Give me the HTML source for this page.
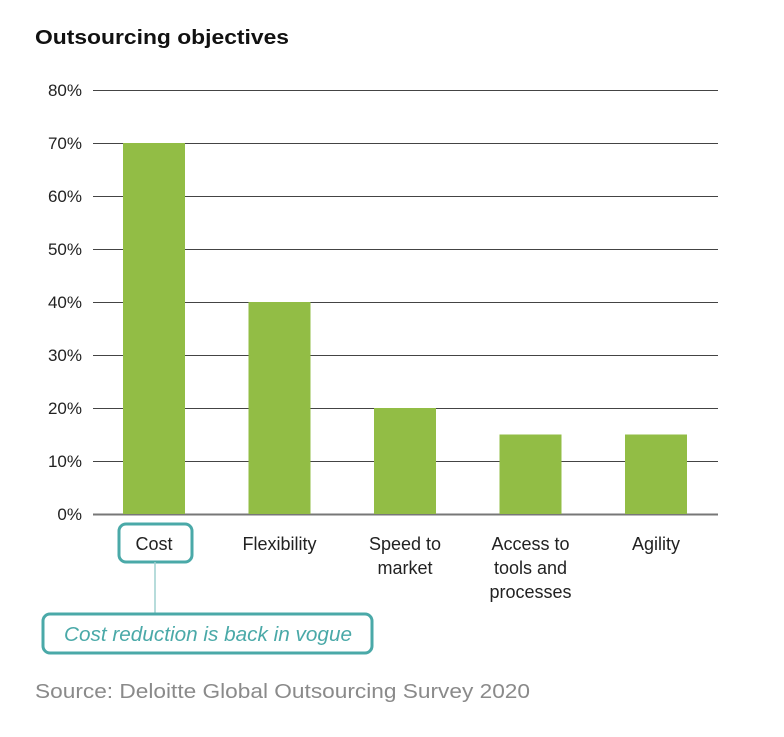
<!DOCTYPE html>
<html><head><meta charset="utf-8"><style>
body{margin:0;background:#fff;width:784px;height:732px;overflow:hidden;font-family:"Liberation Sans",sans-serif}
</style></head><body>
<svg width="784" height="732" xmlns="http://www.w3.org/2000/svg">
<text x="35" y="44" font-size="20" font-weight="bold" fill="#111" textLength="254" lengthAdjust="spacingAndGlyphs">Outsourcing objectives</text>
<g id="grid"></g>
<g id="bars"></g>
<g id="xl"></g>
<rect x="119" y="524" width="73" height="38" rx="7" fill="none" stroke="#4aa9a8" stroke-width="3"/>
<line x1="155" y1="562" x2="155" y2="613" stroke="#9fd0cf" stroke-width="1.5"/>
<rect x="43" y="614" width="329" height="39" rx="7" fill="none" stroke="#4aa9a8" stroke-width="3"/>
<text x="64" y="641" font-size="20" font-style="italic" fill="#4aa9a8" textLength="288" lengthAdjust="spacingAndGlyphs">Cost reduction is back in vogue</text>
<text x="35" y="698" font-size="20" fill="#8a8a8a" textLength="495" lengthAdjust="spacingAndGlyphs">Source: Deloitte Global Outsourcing Survey 2020</text>
</svg>
<script>
const categories=[["Cost"],["Flexibility"],["Speed to","market"],["Access to","tools and","processes"],["Agility"]];
const values=[70,40,20,15,15];
const ticks=[0,10,20,30,40,50,60,70,80];
const NS="http://www.w3.org/2000/svg";
const y=v=>514-v*5.3;
const xc=i=>154+i*125.5;
function mk(t,a,p){const e=document.createElementNS(NS,t);for(const k in a)e.setAttribute(k,a[k]);p.appendChild(e);return e;}
const g=document.getElementById('grid');
ticks.forEach(t=>{
 const l=mk('line',{x1:93,x2:718,y1:y(t)+0.5,y2:y(t)+0.5,stroke:t===0?'#777':'#444','stroke-width':t===0?2:1},g);
 
 
 const tx=mk('text',{x:82,y:y(t)+6,'text-anchor':'end','font-size':17,fill:'#222'},g);
 tx.textContent=t+'%';
 
 
});
const b=document.getElementById('bars');
values.forEach((v,i)=>{
 const r=mk('rect',{x:xc(i)-31,y:y(v),width:62,height:y(0)-y(v),fill:'#92bd45'},b);
 
 
});
const xl=document.getElementById('xl');
categories.forEach((c,i)=>{
 c.forEach((line,j)=>{
  const t=mk('text',{x:xc(i),y:550+j*24,'text-anchor':'middle','font-size':18,fill:'#222'},xl);
  t.textContent=line;
  
  
 });
});
</script>
</body></html>
